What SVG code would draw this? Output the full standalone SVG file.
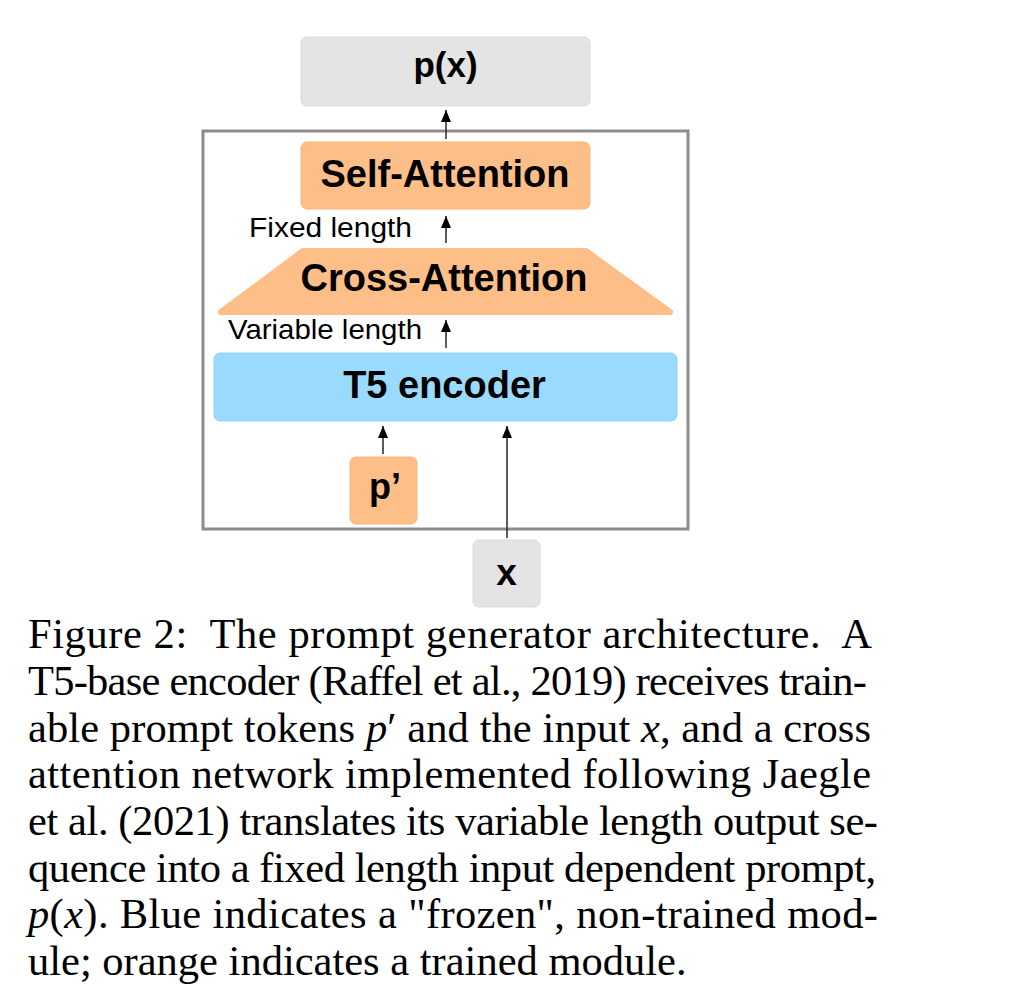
<svg xmlns="http://www.w3.org/2000/svg" width="1021" height="998" viewBox="0 0 1021 998">
<style>
.bold{font-family:"Liberation Sans",Arial,sans-serif;font-weight:bold;fill:#000;text-anchor:middle}
.lbl{font-family:"Liberation Sans",Arial,sans-serif;font-size:27.5px;fill:#000}
.cap{font-family:"Liberation Serif","Times New Roman",serif;font-size:42.5px;fill:#000}
.it{font-style:italic}
.gray{fill:#e4e4e4;stroke:#dadada;stroke-width:1}
.orange{fill:#fdbe87;stroke:#f7b67c;stroke-width:1}
.blue{fill:#9adbfd;stroke:#8fd3f7;stroke-width:1}
.conn line{stroke:#333;stroke-width:1.6;marker-end:url(#ah)}
</style>
<defs>
<marker id="ah" markerUnits="userSpaceOnUse" markerWidth="12" markerHeight="10" refX="12" refY="5" orient="auto">
<path d="M0,0 L12,5 L0,10 z" fill="#000"/>
</marker>
</defs>
<rect width="1021" height="998" fill="#fff"/>
<g id="frame">
<rect x="203" y="131" width="485" height="398" fill="none" stroke="#8c8c8c" stroke-width="3"/>
</g>
<g id="px">
<rect class="gray" x="301" y="37" width="289" height="69" rx="6"/>
<text class="bold" x="445.5" y="77" font-size="35">p(x)</text>
</g>
<g id="self-attention">
<rect class="orange" x="301" y="142" width="289" height="67" rx="6"/>
<text class="bold" x="445" y="187" font-size="38">Self-Attention</text>
</g>
<g id="cross-attention">
<polygon points="303,251 586,251 670,312 221,312" fill="#fdbe87" stroke="#fdbe87" stroke-width="6" stroke-linejoin="round"/>
<text class="bold" x="444" y="291" font-size="38">Cross-Attention</text>
</g>
<g id="t5-encoder">
<rect class="blue" x="214" y="353" width="463" height="68" rx="6"/>
<text class="bold" x="444.5" y="398" font-size="38">T5 encoder</text>
</g>
<g id="p-prime">
<rect class="orange" x="350" y="457" width="67" height="67" rx="6"/>
<text class="bold" x="385" y="499" font-size="36">p’</text>
</g>
<g id="x-input">
<rect class="gray" x="473" y="540" width="67" height="67" rx="6"/>
<text class="bold" x="506.5" y="585" font-size="37">x</text>
</g>
<g id="labels">
<text class="lbl" x="249" y="237" textLength="163" lengthAdjust="spacingAndGlyphs">Fixed length</text>
<text class="lbl" x="228" y="339" textLength="194" lengthAdjust="spacingAndGlyphs">Variable length</text>
</g>
<g id="connectors" class="conn">
<line x1="446" y1="139" x2="446" y2="110"/>
<line x1="446" y1="243" x2="446" y2="216"/>
<line x1="446" y1="348" x2="446" y2="320"/>
<line x1="383" y1="454" x2="383" y2="426"/>
<line x1="507" y1="538" x2="507" y2="426"/>
</g>
<g id="caption" class="cap">
<text x="28" y="648" textLength="844" lengthAdjust="spacing" xml:space="preserve">Figure 2:  The prompt generator architecture.  A</text>
<text x="28" y="695" textLength="839" lengthAdjust="spacing">T5-base encoder (Raffel et al., 2019) receives train-</text>
<text x="28" y="741.5" textLength="843" lengthAdjust="spacing">able prompt tokens <tspan class="it">p</tspan>′ and the input <tspan class="it">x</tspan>, and a cross</text>
<text x="28" y="788" textLength="843" lengthAdjust="spacing">attention network implemented following Jaegle</text>
<text x="28" y="835" textLength="850" lengthAdjust="spacing">et al. (2021) translates its variable length output se-</text>
<text x="28" y="881.5" textLength="848" lengthAdjust="spacing">quence into a fixed length input dependent prompt,</text>
<text x="28" y="928" textLength="850" lengthAdjust="spacing"><tspan class="it">p</tspan>(<tspan class="it">x</tspan>). Blue indicates a "frozen", non-trained mod-</text>
<text x="28" y="975">ule; orange indicates a trained module.</text>
</g>
</svg>
